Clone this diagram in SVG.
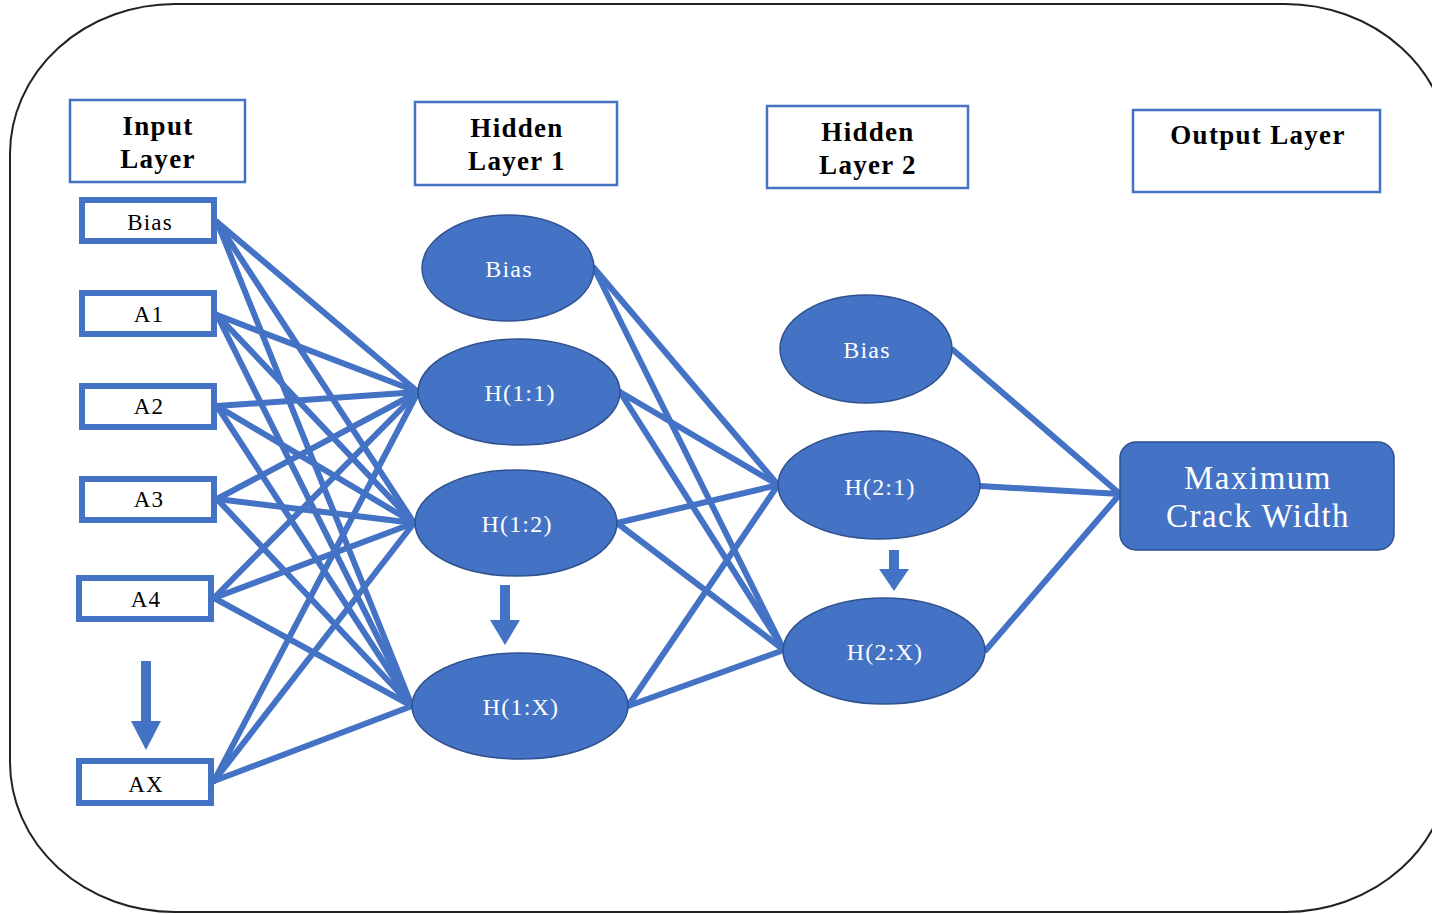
<svg xmlns="http://www.w3.org/2000/svg" width="1432" height="914" viewBox="0 0 1432 914">
<style>
.hdr{fill:#fff;stroke:#4472C4;stroke-width:2.5}
.ht{font-family:"Liberation Serif",serif;font-weight:bold;font-size:27px;fill:#000;text-anchor:middle;letter-spacing:1.3px}
.inb{fill:#fff;stroke:#4472C4;stroke-width:6}
.it{font-family:"Liberation Serif",serif;font-size:23px;fill:#000;text-anchor:middle;letter-spacing:1.2px}
.nd{fill:#4472C4;stroke:#2F528F;stroke-width:1.5}
.nt{font-family:"Liberation Serif",serif;font-size:24px;fill:#fff;text-anchor:middle;letter-spacing:1.2px}
.ot{font-family:"Liberation Serif",serif;font-size:33px;fill:#fff;text-anchor:middle;letter-spacing:1.5px}
.cn line{stroke:#4472C4;stroke-width:6;stroke-linecap:round}
.ar{fill:#4472C4}
</style>
<rect x="0" y="0" width="1432" height="914" fill="#fff"/>
<rect x="10" y="4" width="1440" height="908" rx="165" ry="150" fill="none" stroke="#222" stroke-width="2"/>

<g id="connectors" class="cn">
<line x1="217" y1="222" x2="418" y2="392"/>
<line x1="217" y1="222" x2="414" y2="523"/>
<line x1="217" y1="222" x2="412" y2="706"/>
<line x1="217" y1="315" x2="418" y2="392"/>
<line x1="217" y1="315" x2="414" y2="523"/>
<line x1="217" y1="315" x2="412" y2="706"/>
<line x1="217" y1="406" x2="418" y2="392"/>
<line x1="217" y1="406" x2="414" y2="523"/>
<line x1="217" y1="406" x2="412" y2="706"/>
<line x1="217" y1="499" x2="418" y2="392"/>
<line x1="217" y1="499" x2="414" y2="523"/>
<line x1="217" y1="499" x2="412" y2="706"/>
<line x1="214" y1="598" x2="418" y2="392"/>
<line x1="214" y1="598" x2="414" y2="523"/>
<line x1="214" y1="598" x2="412" y2="706"/>
<line x1="214" y1="781" x2="418" y2="392"/>
<line x1="214" y1="781" x2="414" y2="523"/>
<line x1="214" y1="781" x2="412" y2="706"/>
<line x1="594" y1="268" x2="778" y2="485"/>
<line x1="594" y1="268" x2="784" y2="650"/>
<line x1="620" y1="392" x2="778" y2="485"/>
<line x1="620" y1="392" x2="784" y2="650"/>
<line x1="617" y1="523" x2="778" y2="485"/>
<line x1="617" y1="523" x2="784" y2="650"/>
<line x1="628" y1="706" x2="778" y2="485"/>
<line x1="628" y1="706" x2="784" y2="650"/>
<line x1="953" y1="350" x2="1120" y2="494"/>
<line x1="980" y1="486" x2="1120" y2="494"/>
<line x1="986" y1="650" x2="1120" y2="494"/>
</g>

<g id="hdr-input"><rect class="hdr" x="70" y="100" width="175" height="82"/><text class="ht" x="158" y="135">Input</text><text class="ht" x="158" y="168">Layer</text></g>
<g id="hdr-hidden1"><rect class="hdr" x="415" y="102" width="202" height="83"/><text class="ht" x="517" y="137">Hidden</text><text class="ht" x="517" y="170">Layer 1</text></g>
<g id="hdr-hidden2"><rect class="hdr" x="767" y="106" width="201" height="82"/><text class="ht" x="868" y="141">Hidden</text><text class="ht" x="868" y="174">Layer 2</text></g>
<g id="hdr-output"><rect class="hdr" x="1133" y="110" width="247" height="82"/><text class="ht" x="1258" y="144">Output Layer</text></g>

<g id="in-bias"><rect class="inb" x="82" y="200" width="132" height="41"/><text class="it" x="150" y="230">Bias</text></g>
<g id="in-a1"><rect class="inb" x="82" y="293" width="132" height="41"/><text class="it" x="149" y="322">A1</text></g>
<g id="in-a2"><rect class="inb" x="82" y="386" width="132" height="41"/><text class="it" x="149" y="414">A2</text></g>
<g id="in-a3"><rect class="inb" x="82" y="479" width="132" height="41"/><text class="it" x="149" y="507">A3</text></g>
<g id="in-a4"><rect class="inb" x="79" y="578" width="132" height="41"/><text class="it" x="146" y="607">A4</text></g>
<g id="in-ax"><rect class="inb" x="79" y="761" width="132" height="42"/><text class="it" x="146" y="792">AX</text></g>
<g id="in-arrow"><rect class="ar" x="141" y="661" width="10" height="62"/><polygon class="ar" points="131,721 161,721 146,750"/></g>

<g id="h1-bias"><ellipse class="nd" cx="508" cy="268" rx="86" ry="53"/><text class="nt" x="509" y="277">Bias</text></g>
<g id="h1-1"><ellipse class="nd" cx="519" cy="392" rx="101" ry="53"/><text class="nt" x="520" y="401">H(1:1)</text></g>
<g id="h1-2"><ellipse class="nd" cx="516" cy="523" rx="101" ry="53"/><text class="nt" x="517" y="532">H(1:2)</text></g>
<g id="h1-x"><ellipse class="nd" cx="520" cy="706" rx="108" ry="53"/><text class="nt" x="521" y="715">H(1:X)</text></g>
<g id="h1-arrow"><rect class="ar" x="500" y="585" width="10" height="37"/><polygon class="ar" points="490,620 520,620 505,645"/></g>

<g id="h2-bias"><ellipse class="nd" cx="866" cy="349" rx="86" ry="54"/><text class="nt" x="867" y="358">Bias</text></g>
<g id="h2-1"><ellipse class="nd" cx="879" cy="485" rx="101" ry="54"/><text class="nt" x="880" y="495">H(2:1)</text></g>
<g id="h2-x"><ellipse class="nd" cx="884" cy="651" rx="101" ry="53"/><text class="nt" x="885" y="660">H(2:X)</text></g>
<g id="h2-arrow"><rect class="ar" x="889" y="550" width="10" height="21"/><polygon class="ar" points="879,569 909,569 894,591"/></g>

<g id="output"><rect x="1120" y="442" width="274" height="108" rx="16" ry="16" fill="#4472C4" stroke="#2F528F" stroke-width="1.5"/><text class="ot" x="1258" y="489">Maximum</text><text class="ot" x="1258" y="527">Crack Width</text></g>
</svg>
